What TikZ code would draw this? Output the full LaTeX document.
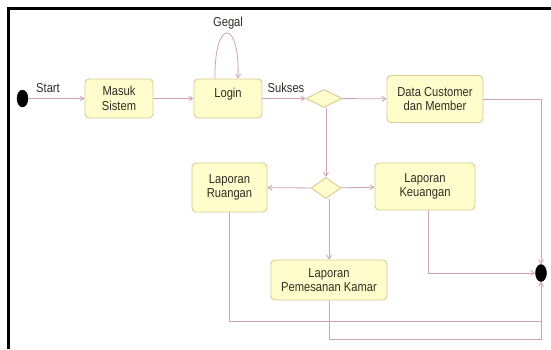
\documentclass[tikz,border=0pt]{standalone}
\usepackage{fontspec}
\setmainfont{Liberation Sans}[FakeStretch=0.86]
\usetikzlibrary{arrows.meta,shapes.geometric}
\definecolor{boxfill}{HTML}{FFFDCB}
\definecolor{boxline}{HTML}{D9CB94}
\definecolor{conn}{HTML}{CFA3B4}
\definecolor{txt}{HTML}{2E2E24}
\tikzset{
  state/.style={draw=boxline, line width=0.9pt, fill=boxfill, rounded corners=4pt,
    align=center, text=txt, font=\fontsize{13}{14.5}\selectfont, inner sep=0pt},
  decision/.style={diamond, draw=boxline, line width=0.9pt, fill=boxfill, inner sep=0pt, aspect=1.7},
  terminal/.style={ellipse, fill=black, draw=black, inner sep=0pt},
  lbl/.style={text=txt, font=\fontsize{13}{14.5}\selectfont, inner sep=0pt},
  arr/.style={draw=conn, line width=0.8pt, -{Straight Barb[length=4pt,width=5pt]}},
  ln/.style={draw=conn, line width=0.8pt}
}
\begin{document}
\begin{tikzpicture}[x=1pt,y=-1pt]
\useasboundingbox (0,0) rectangle (551,349);
\fill[white] (0,0) rectangle (551,349);
\draw[black, line width=2.5pt] (551,8.5) -- (8.5,8.5) -- (8.5,349);

\node[terminal, minimum width=11pt, minimum height=17pt] (start) at (22.5,98.5) {};
\node[state, minimum width=68pt, minimum height=39pt] (masuk) at (119,98.5) {Masuk\\Sistem};
\node[state, minimum width=68pt, minimum height=39pt] (login) at (228,98.5) {Login\\[-4pt]\mbox{}};
\node[decision, minimum width=36pt, minimum height=18pt] (dec1) at (324,98.5) {};
\node[state, minimum width=96pt, minimum height=47pt] (data) at (435,99) {Data Customer\\dan Member};
\node[decision, minimum width=30pt, minimum height=21pt] (dec2) at (326,188) {};
\node[state, minimum width=75pt, minimum height=49pt] (ruangan) at (229.5,187.5) {Laporan\\Ruangan};
\node[state, minimum width=100pt, minimum height=47pt] (keuangan) at (425,186.5) {Laporan\\Keuangan};
\node[state, minimum width=116pt, minimum height=40pt] (pemesanan) at (329,280) {Laporan\\Pemesanan Kamar};
\node[terminal, minimum width=11pt, minimum height=17pt] (final) at (541,273) {};

\node[lbl] (lstart) at (48,88) {Start};
\node[lbl] (lgegal) at (228,23) {Gegal};
\node[lbl] (lsukses) at (286,88) {Sukses};

\draw[arr] (start) -- (masuk);
\draw[arr] (masuk) -- (login);
\draw[arr] ([xshift=-13pt]login.north) .. controls (214,18) and (240,18) .. ([xshift=10pt]login.north);
\draw[arr] (login) -- (dec1);
\draw[arr] (dec1) -- (data);
\draw[arr] (dec1.south -| dec2.north) -- (dec2.north);
\draw[arr] (dec2) -- (ruangan);
\draw[arr] (dec2) -- (keuangan);
\draw[arr] (dec2.south -| pemesanan.north) -- (pemesanan.north);
\draw[arr] (data.east) -| (final.north);
\draw[arr] ([xshift=3pt]keuangan.south) |- (final.west);
\draw[arr] (ruangan.south) |- (541,321) -- (final.south);
\draw[ln] (pemesanan.south) |- (541,339) -- (541,321);
\end{tikzpicture}
\end{document}
